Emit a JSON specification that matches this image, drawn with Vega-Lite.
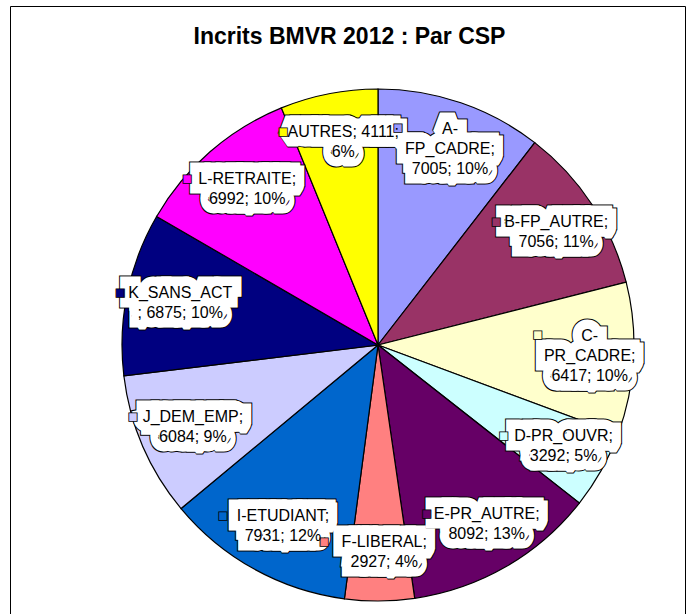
{
  "$schema": "https://vega.github.io/schema/vega-lite/v6.json",
  "width": 675,
  "height": 608,
  "autosize": "none",
  "padding": {"left": 10, "top": 6, "right": 5, "bottom": 0},
  "background": "white",
  "view": {"stroke": "black", "strokeWidth": 1, "fill": "white"},
  "config": {"view": {"stroke": "black", "strokeWidth": 1}},
  "title": {
    "text": "Incrits BMVR 2012 : Par CSP",
    "frame": "group",
    "anchor": "middle",
    "offset": -43,
    "dx": 2,
    "font": "Liberation Sans",
    "fontSize": 23,
    "fontWeight": "bold",
    "color": "black"
  },
  "data": {
    "values": [
      {"idx": 1, "cat": "A-FP_CADRE", "n": 7005, "lines": ["A-", "FP_CADRE;", "7005; 10%"]},
      {"idx": 2, "cat": "B-FP_AUTRE", "n": 7056, "lines": ["B-FP_AUTRE;", "7056; 11%"]},
      {"idx": 3, "cat": "C-PR_CADRE", "n": 6417, "lines": ["C-", "PR_CADRE;", "6417; 10%"]},
      {"idx": 4, "cat": "D-PR_OUVR", "n": 3292, "lines": ["D-PR_OUVR;", "3292; 5%"]},
      {"idx": 5, "cat": "E-PR_AUTRE", "n": 8092, "lines": ["E-PR_AUTRE;", "8092; 13%"]},
      {"idx": 6, "cat": "F-LIBERAL", "n": 2927, "lines": ["F-LIBERAL;", "2927; 4%"]},
      {"idx": 7, "cat": "I-ETUDIANT", "n": 7931, "lines": ["I-ETUDIANT;", "7931; 12%"]},
      {"idx": 8, "cat": "J_DEM_EMP", "n": 6084, "lines": ["J_DEM_EMP;", "6084; 9%"]},
      {"idx": 9, "cat": "K_SANS_ACT", "n": 6875, "lines": ["K_SANS_ACT", "; 6875; 10%"]},
      {"idx": 10, "cat": "L-RETRAITE", "n": 6992, "lines": ["L-RETRAITE;", "6992; 10%"]},
      {"idx": 11, "cat": "AUTRES", "n": 4111, "lines": ["AUTRES; 4111;", "6%"]}
    ]
  },
  "encoding": {
    "theta": {"field": "n", "type": "quantitative", "stack": true},
    "order": {"field": "idx", "type": "quantitative"},
    "color": {
      "field": "cat",
      "type": "nominal",
      "legend": null,
      "scale": {
        "domain": ["A-FP_CADRE", "B-FP_AUTRE", "C-PR_CADRE", "D-PR_OUVR", "E-PR_AUTRE", "F-LIBERAL", "I-ETUDIANT", "J_DEM_EMP", "K_SANS_ACT", "L-RETRAITE", "AUTRES"],
        "range": ["#9999FF", "#993366", "#FFFFCC", "#CCFFFF", "#660066", "#FF8080", "#0066CC", "#CCCCFF", "#000080", "#FF00FF", "#FFFF00"]
      }
    }
  },
  "layer": [
    {
      "mark": {"type": "arc", "outerRadius": 256, "stroke": "black", "strokeWidth": 1.2, "xOffset": 30.5, "yOffset": 35}
    },
    {
      "mark": {"type": "text", "radius": 207, "xOffset": 30.5, "yOffset": 35, "dx": 5, "dy": -10, "font": "Liberation Sans", "fontSize": 16, "lineHeight": 20, "align": "center", "baseline": "middle", "fill": "black", "stroke": "black", "strokeWidth": 21, "strokeJoin": "miter", "strokeMiterLimit": 1.5},
      "encoding": {
        "text": {"field": "lines"},
        "color": {"value": "black"},
        "opacity": {"condition": {"test": "indexof(['A-FP_CADRE','C-PR_CADRE'], datum.cat) >= 0", "value": 0}, "value": 1}
      }
    },
    {
      "mark": {"type": "text", "radius": 207, "xOffset": 30.5, "yOffset": 35, "dx": 5, "dy": -20, "font": "Liberation Sans", "fontSize": 16, "lineHeight": 20, "align": "center", "baseline": "middle", "fill": "black", "stroke": "black", "strokeWidth": 21, "strokeJoin": "miter", "strokeMiterLimit": 1.5},
      "encoding": {
        "text": {"field": "lines"},
        "color": {"value": "black"},
        "opacity": {"condition": {"test": "indexof(['A-FP_CADRE','C-PR_CADRE'], datum.cat) >= 0", "value": 1}, "value": 0}
      }
    },
    {
      "mark": {"type": "text", "radius": 207, "xOffset": 30.5, "yOffset": 35, "dx": 5, "dy": -10, "font": "Liberation Sans", "fontSize": 16, "lineHeight": 20, "align": "center", "baseline": "middle", "fill": "white", "stroke": "white", "strokeWidth": 19, "strokeJoin": "miter", "strokeMiterLimit": 1.5},
      "encoding": {
        "text": {"field": "lines"},
        "color": {"value": "white"},
        "opacity": {"condition": {"test": "indexof(['A-FP_CADRE','C-PR_CADRE'], datum.cat) >= 0", "value": 0}, "value": 1}
      }
    },
    {
      "mark": {"type": "text", "radius": 207, "xOffset": 30.5, "yOffset": 35, "dx": 5, "dy": -20, "font": "Liberation Sans", "fontSize": 16, "lineHeight": 20, "align": "center", "baseline": "middle", "fill": "white", "stroke": "white", "strokeWidth": 19, "strokeJoin": "miter", "strokeMiterLimit": 1.5},
      "encoding": {
        "text": {"field": "lines"},
        "color": {"value": "white"},
        "opacity": {"condition": {"test": "indexof(['A-FP_CADRE','C-PR_CADRE'], datum.cat) >= 0", "value": 1}, "value": 0}
      }
    },
    {
      "mark": {"type": "text", "text": "■", "radius": 207, "xOffset": 30.5, "yOffset": 35, "dx": -47, "dy": -21, "font": "DejaVu Sans", "fontSize": 11, "align": "center", "baseline": "middle", "stroke": "black", "strokeWidth": 0.8},
      "encoding": {
        "opacity": {"condition": {"test": "indexof(['A-FP_CADRE','C-PR_CADRE'], datum.cat) >= 0", "value": 1}, "value": 0}
      }
    },
    {
      "mark": {"type": "text", "text": "■", "radius": 207, "xOffset": 30.5, "yOffset": 35, "dx": -55, "dy": -10, "font": "DejaVu Sans", "fontSize": 11, "align": "center", "baseline": "middle", "stroke": "black", "strokeWidth": 0.8},
      "encoding": {
        "opacity": {"condition": {"test": "indexof(['A-FP_CADRE','C-PR_CADRE'], datum.cat) >= 0", "value": 0}, "value": 1}
      }
    },
    {
      "mark": {"type": "text", "radius": 207, "xOffset": 30.5, "yOffset": 35, "dx": 5, "dy": -10, "font": "Liberation Sans", "fontSize": 16, "lineHeight": 20, "align": "center", "baseline": "middle"},
      "encoding": {
        "text": {"field": "lines"},
        "color": {"value": "black"},
        "opacity": {"condition": {"test": "indexof(['A-FP_CADRE','C-PR_CADRE'], datum.cat) >= 0", "value": 0}, "value": 1}
      }
    },
    {
      "mark": {"type": "text", "radius": 207, "xOffset": 30.5, "yOffset": 35, "dx": 5, "dy": -20, "font": "Liberation Sans", "fontSize": 16, "lineHeight": 20, "align": "center", "baseline": "middle"},
      "encoding": {
        "text": {"field": "lines"},
        "color": {"value": "black"},
        "opacity": {"condition": {"test": "indexof(['A-FP_CADRE','C-PR_CADRE'], datum.cat) >= 0", "value": 1}, "value": 0}
      }
    }
  ]
}
